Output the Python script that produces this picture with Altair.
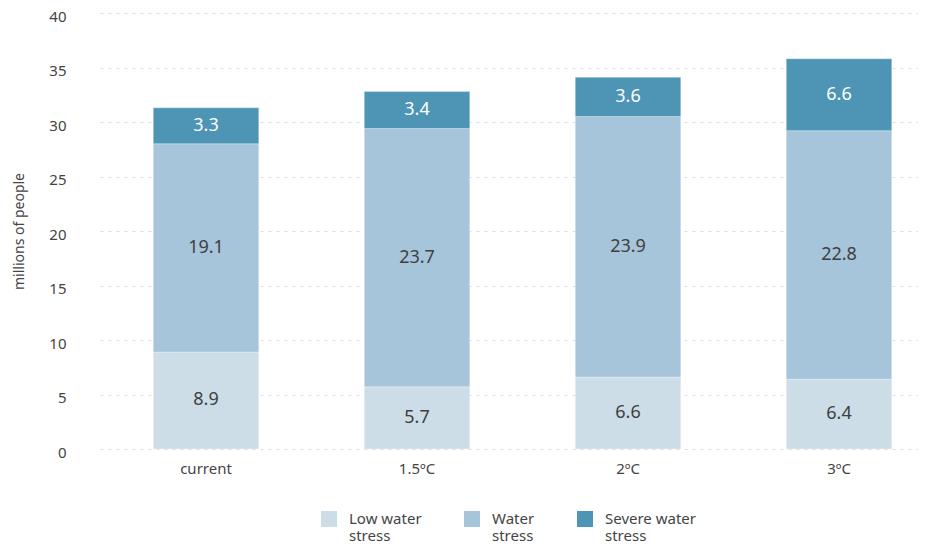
import altair as alt
import pandas as pd

scenarios = ["current", "1.5ºC", "2ºC", "3ºC"]
series = ["Low water stress", "Water stress", "Severe water stress"]
low = [8.9, 5.7, 6.6, 6.4]
water = [19.1, 23.7, 23.9, 22.8]
severe = [3.3, 3.4, 3.6, 6.6]
colors = ["#ccdde8", "#a6c4da", "#4e94b5"]
text_colors = ["#404040", "#404040", "#ffffff"]

rows = []
for i, sc in enumerate(scenarios):
    for j, (name, vals) in enumerate(zip(series, [low, water, severe])):
        rows.append({"scenario": sc, "series": name, "value": vals[i], "order": j})
df = pd.DataFrame(rows)

FONT = "Noto Sans"

base = alt.Chart(df).encode(
    x=alt.X("scenario:N", sort=scenarios, title=None,
            scale=alt.Scale(paddingInner=0.5, paddingOuter=0.1884, align=0.67),
            axis=alt.Axis(labelAngle=0, labelFontSize=15, labelColor="#444444",
                          labelPadding=12, ticks=False, domain=False, grid=False,
                          labelFont=FONT)),
    y=alt.Y("value:Q", stack="zero", title="millions of people",
            scale=alt.Scale(domain=[0, 40]),
            axis=alt.Axis(values=[0, 5, 10, 15, 20, 25, 30, 35, 40], ticks=False, domain=False,
                          labelFontSize=15, labelColor="#444444", labelPadding=34,
                          labelOffset=3,
                          titleFontSize=14, titleFontWeight="normal", titleColor="#444444",
                          titlePadding=22, labelFont=FONT, titleFont=FONT,
                          grid=True, gridColor="#dddddd", gridDash=[3, 5], gridWidth=1)),
    order=alt.Order("order:Q"),
)

bars = base.mark_bar(stroke="white", strokeWidth=0.6, strokeOpacity=0.5).encode(
    color=alt.Color("series:N", sort=series,
                    scale=alt.Scale(domain=series, range=colors),
                    legend=alt.Legend(title=None, orient="none", direction="horizontal",
                                      legendX=221, legendY=498,
                                      symbolType="square", symbolSize=256,
                                      symbolStrokeWidth=0, labelFontSize=15,
                                      labelColor="#444444", labelFont=FONT,
                                      labelOffset=12, columnPadding=42,
                                      labelExpr="[replace(datum.label, ' stress', ''), 'stress']")),
)

labels = base.mark_text(fontSize=18, font=FONT, baseline="middle").encode(
    y=alt.Y("value:Q", stack="zero", bandPosition=0.5),
    text=alt.Text("value:Q", format=".1f"),
    color=alt.Color("series:N", sort=series,
                    scale=alt.Scale(domain=series, range=text_colors), legend=None),
)

chart = alt.layer(bars, labels).resolve_scale(color="independent").properties(
    width=818, height=436,
    autosize=alt.AutoSizeParams(type="none"),
    padding={"left": 92, "top": 5, "right": 0, "bottom": 100},
).configure_view(stroke=None)

chart.save("out.html", embed_options={"renderer": "svg", "actions": False})
